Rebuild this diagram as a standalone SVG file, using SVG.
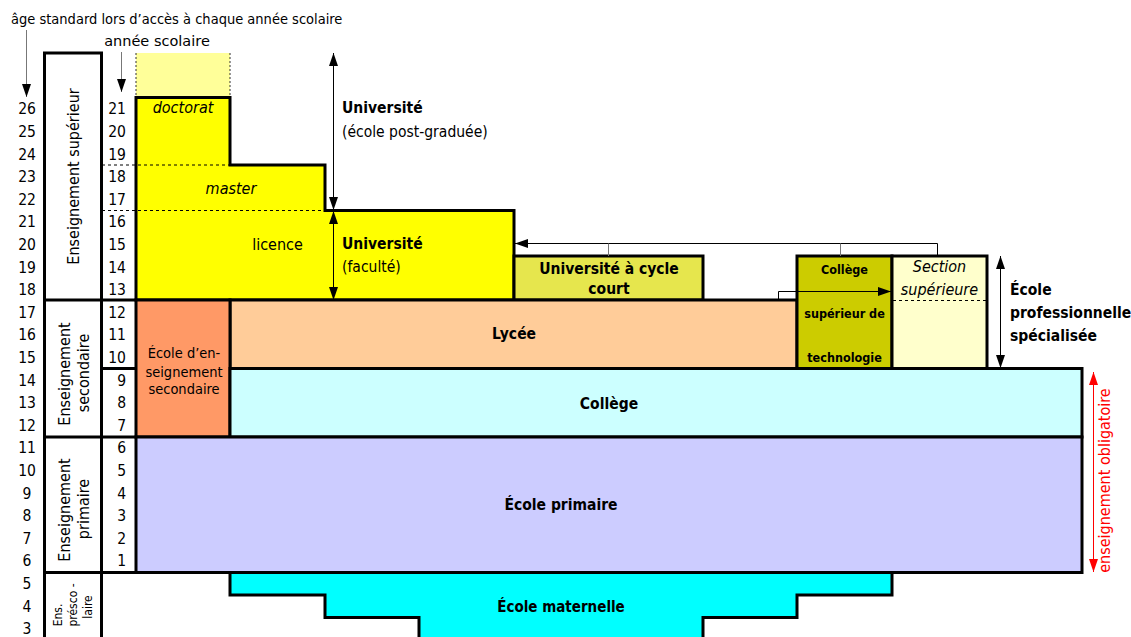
<svg xmlns="http://www.w3.org/2000/svg" width="1131" height="637" viewBox="0 0 1131 637">
<style>
text{font-family:"DejaVu Sans Condensed","DejaVu Sans","Liberation Sans",sans-serif;font-stretch:condensed;fill:#000}
.num{font-size:15.5px}
.age{text-anchor:middle}
.yr{text-anchor:end}
.blk{stroke:#000;stroke-width:3;stroke-linejoin:miter}
.thin{fill:none;stroke:#000;stroke-width:1}
.grey{fill:none;stroke:#777;stroke-width:1}
.dash{fill:none;stroke:#000;stroke-width:1;stroke-dasharray:3,3}
.dot{fill:none;stroke:#333;stroke-width:1;stroke-dasharray:2,2}
.b{font-weight:bold}
.i{font-style:italic}
.c{text-anchor:middle}
.lvl{font-size:16px;text-anchor:middle}
</style>
<defs>
<marker id="ah" viewBox="0 0 13 9" refX="13" refY="4.5" markerWidth="13" markerHeight="9" markerUnits="userSpaceOnUse" orient="auto-start-reverse"><path d="M0,0 L13,4.5 L0,9 Z" fill="#000"/></marker>
<marker id="ahr" viewBox="0 0 13 9" refX="13" refY="4.5" markerWidth="13" markerHeight="9" markerUnits="userSpaceOnUse" orient="auto-start-reverse"><path d="M0,0 L13,4.5 L0,9 Z" fill="#f00"/></marker>
</defs>
<rect width="1131" height="637" fill="#fff"/>

<g id="headers">
<text x="11" y="24" style="font-size:14.5px">âge standard lors d’accès à chaque année scolaire</text>
<text x="157" y="46" class="c" style="font-family:'DejaVu Sans',sans-serif;font-stretch:normal;font-size:14.5px">année scolaire</text>
</g>

<g id="level-frame">
<path class="blk" fill="none" d="M44.5,637 V53 H101.5 V637"/>
<path class="blk" fill="none" d="M44.5,300 H136 M101.5,368.5 H136 M44.5,437 H136 M44.5,572.5 H136"/>
</g>

<g id="ages" class="num age">
<text x="27" y="114.3">26</text><text x="27" y="136.9">25</text><text x="27" y="159.5">24</text><text x="27" y="182.1">23</text>
<text x="27" y="204.7">22</text><text x="27" y="227.3">21</text><text x="27" y="249.9">20</text><text x="27" y="272.5">19</text>
<text x="27" y="295.1">18</text><text x="27" y="317.7">17</text><text x="27" y="340.3">16</text><text x="27" y="362.9">15</text>
<text x="27" y="385.5">14</text><text x="27" y="408.1">13</text><text x="27" y="430.7">12</text><text x="27" y="453.3">11</text>
<text x="27" y="475.9">10</text><text x="27" y="498.5">9</text><text x="27" y="521.1">8</text><text x="27" y="543.7">7</text>
<text x="27" y="566.3">6</text><text x="27" y="588.9">5</text><text x="27" y="611.5">4</text><text x="27" y="634.1">3</text>
</g>

<g id="years" class="num yr">
<text x="126" y="114.3">21</text><text x="126" y="136.9">20</text><text x="126" y="159.5">19</text><text x="126" y="182.1">18</text>
<text x="126" y="204.7">17</text><text x="126" y="227.3">16</text><text x="126" y="249.9">15</text><text x="126" y="272.5">14</text>
<text x="126" y="295.1">13</text><text x="126" y="317.7">12</text><text x="126" y="340.3">11</text><text x="126" y="362.9">10</text>
<text x="126" y="385.5">9</text><text x="126" y="408.1">8</text><text x="126" y="430.7">7</text><text x="126" y="453.3">6</text>
<text x="126" y="475.9">5</text><text x="126" y="498.5">4</text><text x="126" y="521.1">3</text><text x="126" y="543.7">2</text>
<text x="126" y="566.3">1</text>
</g>

<g id="level-labels">
<text class="lvl" transform="translate(79,176.5) rotate(-90)">Enseignement supérieur</text>
<text class="lvl" transform="translate(70,374) rotate(-90)">Enseignement</text>
<text class="lvl" transform="translate(89,373) rotate(-90)">secondaire</text>
<text class="lvl" transform="translate(70,510) rotate(-90)">Enseignement</text>
<text class="lvl" transform="translate(89,509) rotate(-90)">primaire</text>
<text class="c" style="font-size:12px" transform="translate(61.5,615) rotate(-90)">Ens.</text>
<text class="c" style="font-size:12px" transform="translate(77,605) rotate(-90)">présco -</text>
<text class="c" style="font-size:12px" transform="translate(91.5,607) rotate(-90)">laire</text>
</g>

<g id="doctorat-future">
<rect x="136" y="53" width="94" height="44.5" fill="#ffff99"/>
<path class="dot" d="M136,53 V97 M230,53 V97"/>
</g>

<g id="universite">
<path class="blk" fill="#ffff00" d="M136,97.5 H230 V165 H325 V210.5 H514 V300 H136 Z"/>
<path class="dash" d="M102,165 H230 M102,210.5 H325"/>
<text x="183" y="113" class="i c" style="font-size:16px">doctorat</text>
<text x="231" y="194" class="i c" style="font-size:16px">master</text>
<text x="277.5" y="250" class="c" style="font-size:16px">licence</text>
<text x="342" y="113" class="b" style="font-size:15.5px">Université</text>
<text x="342" y="137" style="font-size:15.5px">(école post-graduée)</text>
<text x="342" y="249" class="b" style="font-size:15.5px">Université</text>
<text x="342" y="272" style="font-size:15.5px">(faculté)</text>
</g>

<g id="universite-cycle-court">
<rect class="blk" x="514" y="256" width="189" height="44" fill="#e6e64d"/>
<text x="609" y="274" class="b c" style="font-size:15.5px">Université à cycle</text>
<text x="609" y="294" class="b c" style="font-size:15.5px">court</text>
</g>

<g id="lycee">
<rect class="blk" x="230" y="300" width="567" height="68.5" fill="#ffcc99"/>
<text x="514" y="339" class="b c" style="font-size:15.5px">Lycée</text>
</g>

<g id="college-superieur-technologie">
<rect class="blk" x="797" y="256" width="95" height="112.5" fill="#cccc00"/>
<text x="844.5" y="273.5" class="b c" style="font-size:12.5px">Collège</text>
<text x="844.5" y="317.5" class="b c" style="font-size:12.5px">supérieur de</text>
<text x="844.5" y="362" class="b c" style="font-size:12.5px">technologie</text>
</g>

<g id="section-superieure">
<rect class="blk" x="892" y="256" width="95" height="112.5" fill="#ffffcc"/>
<path class="dash" d="M893,300.5 H986"/>
<text x="939.5" y="272" class="i c" style="font-size:16px">Section</text>
<text x="939.5" y="295" class="i c" style="font-size:16px">supérieure</text>
</g>

<g id="ecole-enseignement-secondaire">
<rect class="blk" x="136" y="300" width="94" height="137" fill="#ff9966"/>
<text x="184" y="358" class="c" style="font-size:14.5px">École d’en-</text>
<text x="184" y="376.5" class="c" style="font-size:14.5px">seignement</text>
<text x="184" y="394" class="c" style="font-size:14.5px">secondaire</text>
</g>

<g id="college">
<rect class="blk" x="230" y="368.5" width="852" height="68.5" fill="#ccffff"/>
<text x="609" y="409" class="b c" style="font-size:15.5px">Collège</text>
</g>

<g id="ecole-primaire">
<rect class="blk" x="136" y="437" width="946" height="135.5" fill="#ccccff"/>
<text x="561" y="510" class="b c" style="font-size:15.5px">École primaire</text>
</g>

<g id="ecole-maternelle">
<path class="blk" fill="#00ffff" d="M230,572.5 H892 V595 H797 V617.5 H703 V645 H419 V617.5 H325 V595 H230 Z"/>
<text x="561" y="611.5" class="b c" style="font-size:15px">École maternelle</text>
</g>

<g id="ecole-professionnelle">
<text x="1010" y="295" class="b" style="font-size:15.5px">École</text>
<text x="1010" y="318" class="b" style="font-size:15.5px">professionnelle</text>
<text x="1010" y="341" class="b" style="font-size:15.5px">spécialisée</text>
</g>

<g id="obligatoire">
<text class="c" style="font-size:16px;fill:#f00" transform="translate(1110,480.5) rotate(-90)">enseignement obligatoire</text>
</g>

<g id="connectors">
<path class="grey" d="M26.5,30 V97" marker-end="url(#ah)"/>
<path class="grey" d="M121.5,52 V92" marker-end="url(#ah)"/>
<path class="thin" d="M333.5,53 V210" marker-start="url(#ah)" marker-end="url(#ah)"/>
<path class="thin" d="M333.5,211 V300" marker-start="url(#ah)" marker-end="url(#ah)"/>
<path class="thin" d="M937.5,256 V243.5 H515" marker-end="url(#ah)"/>
<path class="grey" d="M608.5,243.5 V256 M840.5,243.5 V256"/>
<path class="thin" d="M778.5,300 V291.5 H891" marker-end="url(#ah)"/>
<path class="thin" d="M1000.5,256 V368" marker-start="url(#ah)" marker-end="url(#ah)"/>
<path fill="none" stroke="#f00" stroke-width="1" d="M1093.5,372 V572" marker-start="url(#ahr)" marker-end="url(#ahr)"/>
</g>
</svg>
